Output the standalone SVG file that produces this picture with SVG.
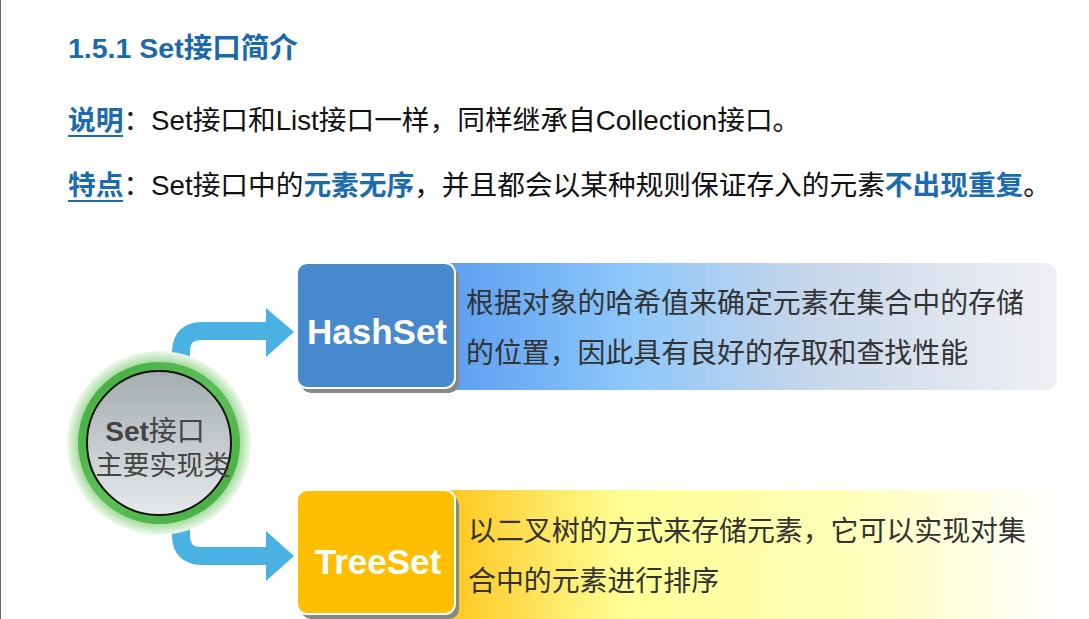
<svg xmlns="http://www.w3.org/2000/svg" width="1089" height="619" viewBox="0 0 1089 619">
<defs>
<style>
.t{font-family:"Liberation Sans","Noto Sans CJK SC",sans-serif;}
.hd{font-size:27.7px;fill:#111;}
.kw{fill:#1c6cad;font-weight:bold;}
.desc{font-family:"Noto Sans CJK SC",sans-serif;font-size:27.9px;fill:#333;}
.lbl{font-family:"Liberation Sans","Noto Sans CJK SC",sans-serif;font-size:35px;font-weight:bold;fill:#fff;text-anchor:middle;}
.arr{fill:none;stroke:#4ab1e3;stroke-width:18;}
</style>
<linearGradient id="gBlue" x1="0" y1="0" x2="1" y2="0">
<stop offset="0" stop-color="#5a9cf0"/>
<stop offset="0.3" stop-color="#8cc7fb"/>
<stop offset="0.6" stop-color="#c7d6ea"/>
<stop offset="1" stop-color="#f0f0f2"/>
</linearGradient>
<linearGradient id="gYel" x1="0" y1="0" x2="1" y2="0">
<stop offset="0" stop-color="#ffc51a"/>
<stop offset="0.3" stop-color="#ffff96"/>
<stop offset="0.65" stop-color="#ffffb8"/>
<stop offset="1" stop-color="#ffffff"/>
</linearGradient>
<radialGradient id="gGlow" cx="0.5" cy="0.5" r="0.5">
<stop offset="0.86" stop-color="#9bd896"/>
<stop offset="1" stop-color="#eef9ec"/>
</radialGradient>
<linearGradient id="gRing" x1="0" y1="0" x2="1" y2="1">
<stop offset="0" stop-color="#43aa3f"/>
<stop offset="0.5" stop-color="#5cbf57"/>
<stop offset="1" stop-color="#43aa3f"/>
</linearGradient>
<linearGradient id="gCore" x1="0" y1="0" x2="0" y2="1">
<stop offset="0" stop-color="#a4acae"/>
<stop offset="1" stop-color="#e6eaec"/>
</linearGradient>
</defs>
<rect width="1089" height="619" fill="#fff"/>
<line x1="0.5" y1="0" x2="0.5" y2="619" stroke="#666" stroke-width="1"/>

<g id="header" class="t">
<text x="68" y="58" font-size="28.5" font-weight="bold" fill="#1a6aab">1.5.1 Set接口简介</text>
<text class="hd" x="68" y="130"><tspan class="kw">说明</tspan>：Set接口和List接口一样，同样继承自Collection接口。</text>
<line x1="68" y1="136" x2="123" y2="136" stroke="#1c6cad" stroke-width="2"/>
<text class="hd" x="68" y="195"><tspan class="kw">特点</tspan>：Set接口中的<tspan class="kw">元素无序</tspan>，并且都会以某种规则保证存入的元素<tspan class="kw">不出现重复</tspan>。</text>
<line x1="68" y1="201" x2="123" y2="201" stroke="#1c6cad" stroke-width="2"/>
</g>

<g id="connectors">
<path class="arr" d="M181,362 L181,352 Q181,331 202,331 L270,331"/>
<polygon points="266,308 294,332 266,357" fill="#4ab1e3"/>
<path class="arr" d="M181,525 L181,535 Q181,556 202,556 L270,556"/>
<polygon points="266,531 294,556 266,581" fill="#4ab1e3"/>
</g>

<g id="hashset-desc">
<path d="M440,263 H1045 A12,12 0 0 1 1057,275 V378 A12,12 0 0 1 1045,390 H440 Z" fill="url(#gBlue)"/>
<text class="desc" x="466" y="313">根据对象的哈希值来确定元素在集合中的存储</text>
<text class="desc" x="466" y="363">的位置，因此具有良好的存取和查找性能</text>
</g>

<g id="treeset-desc">
<path d="M440,490 H1045 A12,12 0 0 1 1057,502 V619 H440 Z" fill="url(#gYel)"/>
<text class="desc" x="468" y="541">以二叉树的方式来存储元素，它可以实现对集</text>
<text class="desc" x="468" y="591">合中的元素进行排序</text>
</g>

<g id="hashset">
<rect x="301" y="268" width="158" height="125" rx="10" fill="#888"/>
<rect x="297" y="263" width="158" height="125" rx="10" fill="#4689cd" stroke="#fff" stroke-width="2"/>
<text class="lbl" x="377" y="344">HashSet</text>
</g>

<g id="treeset">
<rect x="301" y="495" width="158" height="124" rx="10" fill="#888"/>
<rect x="297" y="490" width="158" height="124" rx="10" fill="#ffbf00" stroke="#fff" stroke-width="2"/>
<text class="lbl" x="378" y="574">TreeSet</text>
</g>

<g id="set-interface">
<circle cx="159" cy="443" r="92" fill="url(#gGlow)"/>
<circle cx="159" cy="443" r="81" fill="url(#gRing)"/>
<circle cx="159" cy="443" r="72" fill="url(#gCore)" stroke="#111" stroke-width="2"/>
<text x="155" y="441" text-anchor="middle" font-size="28" fill="#444" font-family="Liberation Sans,Noto Sans CJK SC,sans-serif"><tspan font-weight="bold">Set</tspan>接口</text>
<text x="163" y="475" text-anchor="middle" font-size="27" fill="#444" font-family="Noto Sans CJK SC,sans-serif">主要实现类</text>
</g>
</svg>
